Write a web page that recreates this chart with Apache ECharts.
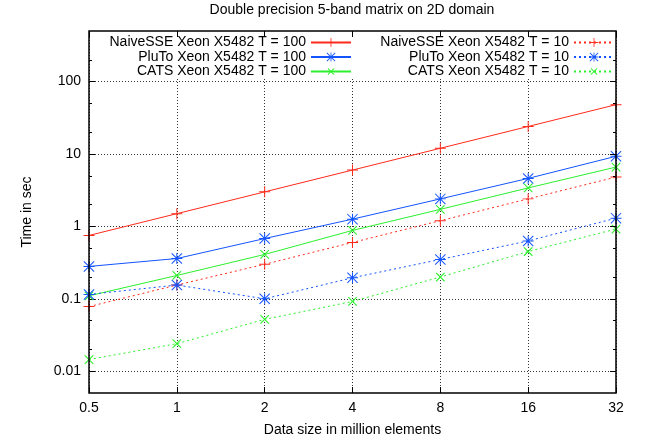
<!DOCTYPE html>
<html>
<head>
<meta charset="utf-8">
<script src="https://cdn.jsdelivr.net/npm/echarts@6/dist/echarts.min.js"></script>
<style>html,body{margin:0;padding:0;background:#fff;}#c{width:651px;height:445px;}</style>
</head>
<body>
<div id="c"></div>
<script>
const categories = ['0.5', '1', '2', '4', '8', '16', '32'];
const naive100 = [0.75, 1.5, 3.0, 6.0, 12.0, 24.0, 48.0];
const pluto100 = [0.28, 0.36, 0.68, 1.26, 2.4, 4.6, 9.3];
const cats100  = [0.11, 0.21, 0.41, 0.88, 1.72, 3.4, 6.6];
const naive10  = [0.078, 0.155, 0.30, 0.60, 1.2, 2.4, 4.8];
const pluto10  = [0.115, 0.155, 0.10, 0.195, 0.35, 0.63, 1.3];
const cats10   = [0.0145, 0.024, 0.052, 0.092, 0.20, 0.45, 0.92];
const yMajorTicks = [0.01, 0.1, 1, 10, 100];
const yMinorTicks = [0.02, 0.05, 0.2, 0.5, 2, 5, 20, 50, 200];
const seriesNames = [
  'NaiveSSE Xeon X5482 T = 100', 'PluTo Xeon X5482 T = 100', 'CATS Xeon X5482 T = 100',
  'NaiveSSE Xeon X5482 T = 10', 'PluTo Xeon X5482 T = 10', 'CATS Xeon X5482 T = 10'
];

const RED = '#ff2a1a', BLUE = '#1454ff', GREEN = '#2cf02c';
const PLUS = 'path://M4.55,0h0.9v10h-0.9z M0,4.55h10v0.9h-10z';
const STAR = 'path://M4.55,0h0.9v10h-0.9z M0,4.55h10v0.9h-10z M0.65,0L10,9.35L9.35,10L0,0.65z M9.35,0L10,0.65L0.65,10L0,9.35z';
const FONT = 'Liberation Sans';
const FS = 14;

const G = { left: 89, right: 35, top: 31, bottom: 52 };

function mk(name, data, color, sym, rot, size, dotted) {
  return {
    name: name, type: 'line', data: data, yAxisIndex: 0, xAxisIndex: 0,
    symbol: sym, symbolSize: size, symbolRotate: rot,
    showSymbol: true, animation: false, z: 5,
    itemStyle: { color: color, borderWidth: 0 },
    lineStyle: { color: color, width: 1, type: dotted ? [2, 3] : 'solid' },
    emphasis: { disabled: true }
  };
}

const series = [
  mk(seriesNames[0], naive100, RED, PLUS, 0, 11, false),
  mk(seriesNames[1], pluto100, BLUE, STAR, 0, 11, false),
  mk(seriesNames[2], cats100, GREEN, PLUS, 45, 12, false),
  mk(seriesNames[3], naive10, RED, PLUS, 0, 11, true),
  mk(seriesNames[4], pluto10, BLUE, STAR, 0, 11, true),
  mk(seriesNames[5], cats10, GREEN, PLUS, 45, 12, true)
];

const legendRows = [35.5, 50, 64.5];
const legends = seriesNames.map((n, i) => ({
  data: [n], selectedMode: false, orient: 'horizontal', align: 'right',
  right: i < 3 ? 299 : 36, top: legendRows[i % 3], padding: 0, z: 10,
  itemWidth: 40, itemHeight: 11, itemGap: 0,
  textStyle: { fontFamily: FONT, fontSize: FS, color: '#000' }
}));

function isPow10(v) {
  const l = Math.log10(v);
  return Math.abs(l - Math.round(l)) < 1e-6;
}

const tickAxis = (pos, len, vals) => ({
  type: 'log', logBase: 10, min: 0.005, max: 500, position: pos, z: 8,
  axisLine: { show: false }, axisLabel: { show: false }, splitLine: { show: false },
  axisTick: { show: true, inside: true, length: len, customValues: vals, lineStyle: { color: '#000', width: 1 } }
});

const chart = echarts.init(document.getElementById('c'), null, { renderer: 'canvas' });
chart.setOption({
  animation: false,
  backgroundColor: '#fff',
  title: {
    text: 'Double precision 5-band matrix on 2D domain',
    left: 352, top: 3, textAlign: 'center', padding: 0,
    textStyle: { fontFamily: FONT, fontSize: FS, fontWeight: 'normal', color: '#000' }
  },
  legend: legends,
  grid: { left: G.left, right: G.right, top: G.top, bottom: G.bottom, show: true, borderColor: '#000', borderWidth: 1.5, backgroundColor: 'transparent', z: 9 },
  graphic: [{
    type: 'rect', z: 3, silent: true,
    shape: { x: G.left + 1, y: G.top + 1, width: 651 - G.left - G.right - 2, height: 47 },
    style: { fill: '#fff' }
  }],
  xAxis: [{
    type: 'category', data: categories, boundaryGap: false, position: 'bottom', z: 1,
    name: 'Data size in million elements', nameLocation: 'middle', nameGap: 30,
    nameTextStyle: { fontFamily: FONT, fontSize: FS, color: '#000' },
    axisLine: { show: false },
    axisTick: { show: true, inside: true, length: 6, lineStyle: { color: '#000', width: 1 } },
    axisLabel: { fontFamily: FONT, fontSize: FS, color: '#000', margin: 8 },
    splitLine: { show: true, lineStyle: { color: '#000', width: 0.8, type: [1, 2] } }
  }, {
    type: 'category', data: categories, boundaryGap: false, position: 'top', z: 8,
    axisLine: { show: false }, axisLabel: { show: false },
    axisTick: { show: true, inside: true, length: 6, lineStyle: { color: '#000', width: 1 } },
    splitLine: { show: false }
  }],
  yAxis: [{
    type: 'log', logBase: 10, min: 0.005, max: 500, position: 'left', z: 1,
    name: 'Time in sec', nameLocation: 'middle', nameGap: 55,
    nameTextStyle: { fontFamily: FONT, fontSize: FS, color: '#000' },
    axisLine: { show: false },
    axisTick: { show: true, inside: true, length: 6, customValues: yMajorTicks, lineStyle: { color: '#000', width: 1 } },
    axisLabel: { fontFamily: FONT, fontSize: FS, color: '#000', margin: 8, customValues: yMajorTicks,
      formatter: v => isPow10(v) ? String(Number(v.toPrecision(6))) : '' },
    splitLine: { show: true, lineStyle: { color: '#000', width: 0.8, type: [1, 2] } }
  },
    tickAxis('left', 3, yMinorTicks),
    tickAxis('right', 6, yMajorTicks),
    tickAxis('right', 3, yMinorTicks)
  ],
  series: series
});
</script>
</body>
</html>
